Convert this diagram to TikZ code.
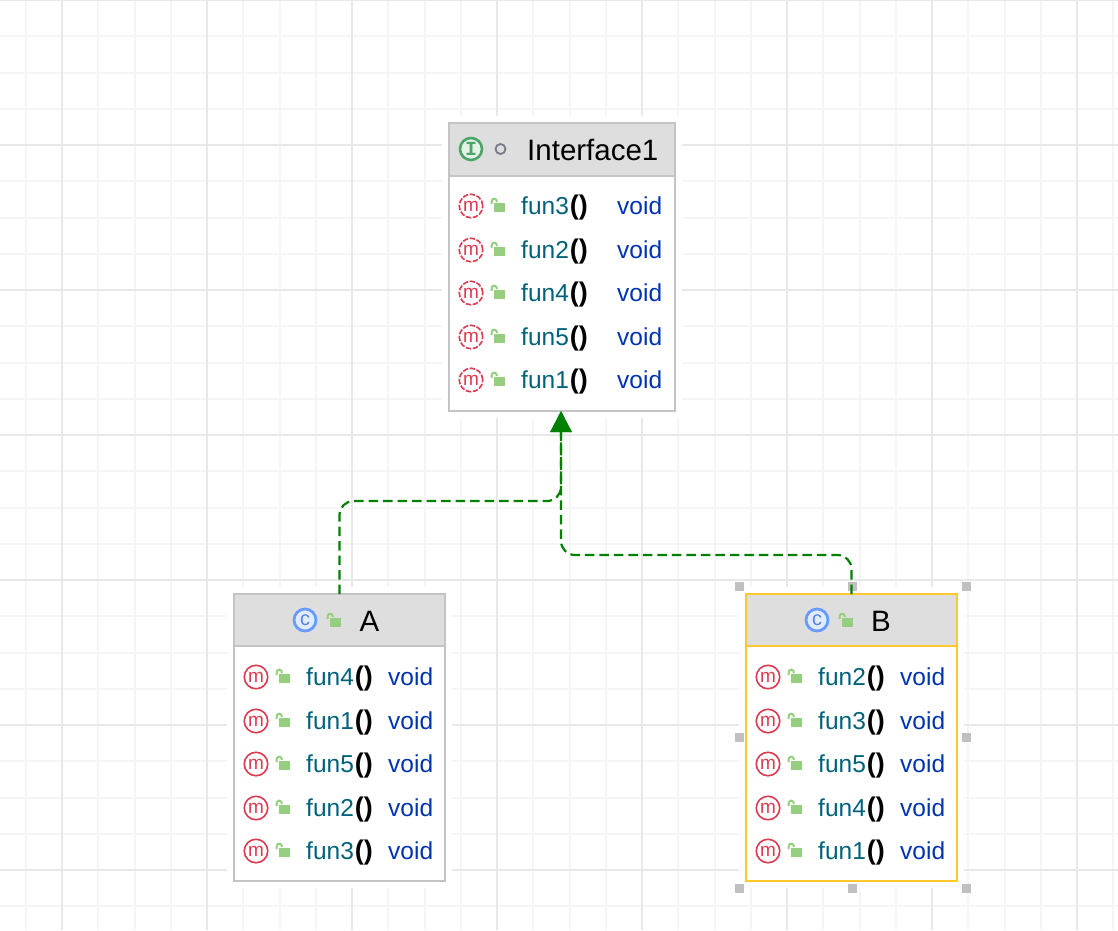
\documentclass[tikz,border=0pt]{standalone}
\usepackage{fontspec}
\setmainfont{Liberation Sans}
\newfontfamily\monofnt{Liberation Mono}
\usetikzlibrary{arrows.meta}

\definecolor{gridmajor}{HTML}{E8E8E8}
\definecolor{gridminor}{HTML}{F5F5F5}
\definecolor{boxline}{HTML}{C4C4C4}
\definecolor{headfill}{HTML}{DEDEDE}
\definecolor{pickline}{HTML}{FDC92F}
\definecolor{handlefill}{HTML}{C0C0C0}
\definecolor{funcolor}{HTML}{00627A}
\definecolor{voidcolor}{HTML}{0033B3}
\definecolor{mred}{HTML}{DE3A50}
\definecolor{lockgreen}{HTML}{94CE7E}
\definecolor{cblue}{HTML}{6B9BFA}
\definecolor{igreen}{HTML}{4CA568}
\definecolor{dotgray}{HTML}{767A8A}
\definecolor{linkgreen}{HTML}{008000}

\tikzset{
    umlbox/.style={draw=boxline,line width=2pt,fill=white,inner sep=0pt,outer sep=0pt,
        preaction={draw=white,line width=14pt}},
    umlhead/.style={draw=boxline,line width=2pt,fill=headfill,inner sep=0pt,outer sep=0pt},
    picked/.style={draw=pickline},
    funtext/.style={anchor=base west,inner sep=0pt,text=funcolor,font=\fontsize{24.5}{28}\selectfont},
    voidtext/.style={anchor=base west,inner sep=0pt,text=voidcolor,font=\fontsize{24.5}{28}\selectfont},
    titletext/.style={anchor=base,inner sep=0pt,font=\fontsize{29.5}{32}\selectfont},
    micon/.style={circle,draw=mred,line width=1.6pt,minimum size=23.5pt,inner sep=0pt,text=mred,
        font=\fontsize{19}{19}\selectfont},
    absicon/.style={micon,dash pattern=on 5.5pt off 1.6pt},
    cicon/.style={circle,draw=cblue,fill=cblue!20,line width=2.8pt,minimum size=22pt,inner sep=0pt,
        text=cblue!85!black,font=\fontsize{20}{20}\selectfont},
    iicon/.style={circle,draw=igreen,fill=igreen!15,line width=2.6pt,minimum size=22pt,inner sep=0pt,
        text=igreen,font=\monofnt\bfseries\fontsize{20}{20}\selectfont},
    handle/.style={fill=handlefill,minimum size=9pt,inner sep=0pt,outer sep=0pt},
    realize/.style={draw=linkgreen,line width=2.2pt,dash pattern=on 9.5pt off 5pt,rounded corners=14pt,
        -{Triangle[width=21pt,length=21pt]}},
    lockicon/.pic={
        \fill[lockgreen] (-3,-3) rectangle (8,6);
        \draw[lockgreen,line width=2pt] (-5.5,-2) -- (-5.5,-4) .. controls (-5.5,-8.5) and (0,-8.5) .. (0,-4);
    }
}

% #1 prefix, #2 row y, #3 method, #4 x of the icon, #5 x of the method, #6 x of void, #7 icon style
\newcommand{\methodrow}[7]{
    \node[#7] (#1m) at (#4,#2) {\raisebox{-1pt}{m}};
    \pic at (#4+26,#2) {lockicon};
    \node[funtext] (#1fun) at (#5,#2+8) {#3\textcolor{black}{\kern1pt\textbf{\fontsize{27}{28}\selectfont()}}};
    \node[voidtext] (#1void) at (#6,#2+8) {void};
}

\begin{document}
\begin{tikzpicture}[x=1pt,y=-1pt]
    \useasboundingbox (0,0) rectangle (1118,930);
    \fill[white] (0,0) rectangle (1118,930);

    % grid
    \foreach \k in {-1,...,29}
        \draw[gridminor,line width=2pt] ({62+36.25*\k},0) -- ({62+36.25*\k},930);
    \foreach \k in {0,...,25}
        \draw[gridminor,line width=2pt] (0,{36.25*\k}) -- (1118,{36.25*\k});
    \foreach \k in {0,...,7}
        \draw[gridmajor,line width=2pt] ({62+145*\k},0) -- ({62+145*\k},930);
    \foreach \k in {0,...,6}
        \draw[gridmajor,line width=2pt] (0,{145*\k}) -- (1118,{145*\k});

    % boxes
    \node[umlbox,minimum width=226pt,minimum height=288pt] (ifacebox) at (562,267) {};
    \node[umlhead,minimum width=226pt,minimum height=53pt] (ifacehead) at (562,149.5) {};
    \node[umlbox,minimum width=211pt,minimum height=287pt] (boxA) at (339.5,737.5) {};
    \node[umlhead,minimum width=211pt,minimum height=52pt] (headA) at (339.5,620) {};
    \node[umlbox,picked,minimum width=211pt,minimum height=287pt] (boxB) at (851.5,737.5) {};
    \node[umlhead,picked,minimum width=211pt,minimum height=52pt] (headB) at (851.5,620) {};

    % selection handles of B
    \node[handle] (hnw) at (739,586) {};
    \node[handle] (hn) at (852,586) {};
    \node[handle] (hne) at (966,586) {};
    \node[handle] (hw) at (739,737) {};
    \node[handle] (he) at (966,737) {};
    \node[handle] (hsw) at (739,888) {};
    \node[handle] (hs) at (852,888) {};
    \node[handle] (hse) at (966,888) {};

    % links
    \coordinate (bendA) at (561,501);
    \coordinate (bendB) at (561,555);
    \coordinate (ifacein) at (561,411);
    \draw[realize] (boxA.north) |- (bendA) -- (ifacein);
    \draw[realize] (boxB.north) |- (bendB) -- (ifacein);

    % titles
    \node[iicon] (ifaceicon) at (471,149) {I};
    \node[circle,draw=dotgray,line width=1.8pt,minimum size=10pt,inner sep=0pt] (ifacedot) at (500.5,149) {};
    \node[titletext,anchor=base west] (ifacetitle) at (527,160) {Interface1};
    \node[cicon] (iconA) at (305,620) {c};
    \pic at (333,621) {lockicon};
    \node[titletext] (titleA) at (369.5,631) {A};
    \node[cicon] (iconB) at (817,620) {c};
    \pic at (845,621) {lockicon};
    \node[titletext] (titleB) at (881,631) {B};

    % methods
    \methodrow{ia}{206}{fun3}{471}{521}{617}{absicon}
    \methodrow{ib}{250}{fun2}{471}{521}{617}{absicon}
    \methodrow{ic}{293}{fun4}{471}{521}{617}{absicon}
    \methodrow{id}{337}{fun5}{471}{521}{617}{absicon}
    \methodrow{ie}{380}{fun1}{471}{521}{617}{absicon}

    \methodrow{aa}{677}{fun4}{256}{306}{388}{micon}
    \methodrow{ab}{721}{fun1}{256}{306}{388}{micon}
    \methodrow{ac}{764}{fun5}{256}{306}{388}{micon}
    \methodrow{ad}{808}{fun2}{256}{306}{388}{micon}
    \methodrow{ae}{851}{fun3}{256}{306}{388}{micon}

    \methodrow{ba}{677}{fun2}{768}{818}{900}{micon}
    \methodrow{bb}{721}{fun3}{768}{818}{900}{micon}
    \methodrow{bc}{764}{fun5}{768}{818}{900}{micon}
    \methodrow{bd}{808}{fun4}{768}{818}{900}{micon}
    \methodrow{be}{851}{fun1}{768}{818}{900}{micon}
\end{tikzpicture}
\end{document}
